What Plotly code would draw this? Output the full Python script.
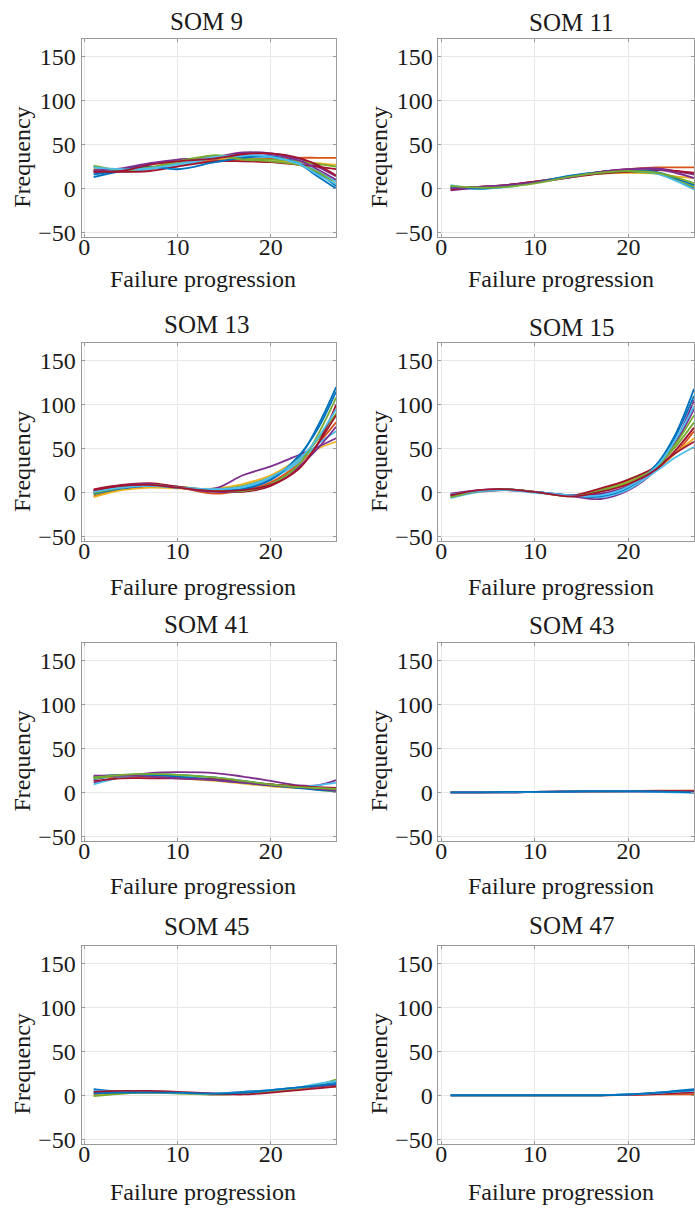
import plotly.graph_objects as go

# ---------------- data ----------------
X = [1, 4, 7, 10, 14, 17, 20, 23, 25, 27]

TITLES = ["SOM 9", "SOM 11", "SOM 13", "SOM 15", "SOM 41", "SOM 43", "SOM 45", "SOM 47"]
X_TICKS = [0, 10, 20]
Y_TICKS = [-50, 0, 50, 100, 150]
X_LABEL = "Failure progression"
Y_LABEL = "Frequency"

SOM9 = [
    [13, 20, 24, 27, 33, 37, 37, 30, 18, 3],
    [20, 21, 24, 28, 32, 33, 34, 35, 35, 35],
    [22, 20, 22, 27, 34, 32, 31, 30, 29, 27],
    [18, 22, 28, 32, 36, 41, 40, 34, 25, 14],
    [24, 20, 24, 29, 38, 34, 33, 31, 28, 25],
    [25, 19, 22, 26, 35, 37, 36, 29, 20, 8],
    [20, 19, 20, 25, 31, 31, 30, 27, 25, 22],
    [16, 21, 25, 22, 30, 35, 36, 28, 14, 0],
    [21, 23, 29, 33, 35, 40, 39, 32, 22, 10],
    [26, 21, 24, 31, 37, 33, 31, 27, 19, 5],
    [24, 22, 23, 28, 36, 38, 36, 28, 16, 5],
    [19, 20, 27, 31, 34, 39, 40, 35, 27, 15],
]
SOM11 = [
    [3, 0, 2, 7, 14, 18, 20, 18, 10, 0],
    [0, 2, 4, 8, 14, 19, 22, 24, 24, 24],
    [1, 1, 3, 7, 13, 17, 18, 17, 14, 12],
    [-2, 1, 4, 8, 14, 19, 22, 23, 20, 16],
    [2, 1, 3, 7, 14, 17, 19, 17, 10, 2],
    [4, 0, 2, 7, 15, 18, 20, 17, 9, -1],
    [-1, 2, 4, 8, 13, 17, 19, 21, 20, 18],
    [2, 0, 3, 7, 15, 19, 21, 19, 12, 4],
    [0, 2, 4, 7, 13, 19, 22, 22, 18, 12],
    [3, 1, 2, 6, 14, 18, 20, 18, 13, 6],
]
SOM13 = [
    [0, 6, 8, 6, 3, 5, 15, 40, 75, 120],
    [-4, 4, 7, 6, -1, 3, 12, 33, 55, 80],
    [-5, 3, 6, 5, 5, 10, 20, 38, 50, 58],
    [3, 8, 10, 7, 5, 20, 30, 43, 52, 62],
    [-2, 5, 9, 7, 4, 8, 18, 37, 60, 90],
    [1, 7, 9, 6, 4, 6, 16, 35, 55, 70],
    [4, 9, 11, 7, 2, 1, 8, 28, 55, 100],
    [-1, 5, 8, 6, 3, 4, 15, 42, 72, 115],
    [2, 8, 10, 6, 1, 2, 10, 30, 50, 75],
    [0, 6, 9, 6, 3, 2, 10, 32, 65, 108],
    [1, 6, 8, 6, 4, 7, 18, 38, 62, 95],
    [3, 8, 9, 6, 2, 3, 9, 27, 55, 88],
]
SOM15 = [
    [-5, 2, 4, 1, -3, -2, 6, 32, 66, 118],
    [-2, 1, 3, 1, -4, 2, 10, 27, 45, 70],
    [-3, 2, 4, 1, -3, 4, 13, 28, 45, 62],
    [-1, 3, 4, 1, -4, -7, 3, 27, 58, 105],
    [-4, 2, 4, 1, -3, 3, 15, 30, 52, 80],
    [-6, 1, 3, 0, -3, -5, 4, 25, 40, 52],
    [-2, 2, 4, 1, -3, 5, 15, 30, 45, 58],
    [-4, 2, 4, 1, -3, -4, 6, 32, 64, 110],
    [-3, 2, 3, 1, -3, -1, 8, 28, 56, 95],
    [-5, 2, 4, 1, -4, 2, 12, 29, 55, 88],
    [-2, 2, 3, 1, -3, -3, 7, 30, 60, 98],
    [-3, 3, 4, 1, -4, 1, 10, 27, 48, 74],
]
SOM41 = [
    [15, 19, 20, 20, 17, 13, 9, 6, 4, 2],
    [18, 17, 17, 17, 14, 11, 8, 6, 5, 4],
    [17, 18, 17, 16, 13, 10, 7, 5, 4, 3],
    [11, 18, 22, 23, 22, 18, 13, 8, 8, 14],
    [16, 19, 19, 18, 15, 12, 9, 6, 3, 1],
    [9, 17, 20, 20, 16, 12, 8, 6, 8, 11],
    [13, 16, 16, 16, 15, 12, 9, 7, 6, 5],
    [18, 20, 20, 18, 14, 11, 8, 5, 3, 2],
    [19, 19, 18, 16, 14, 11, 8, 6, 4, 2],
    [17, 20, 21, 20, 17, 13, 9, 6, 5, 4],
]
SOM43 = [
    [0, 0, 0, 0.5, 1, 1, 1, 1, 0.5, 0],
    [0, 0, 0.5, 0.5, 1, 1.5, 1.5, 2, 2, 2],
    [0, 0, 0, 0.5, 1, 1, 1, 1, 1, 0.5],
    [0, 0, 0, 0.5, 1, 1, 1.5, 1.5, 1.5, 1.5],
    [0, 0, 0, 0.5, 1, 1, 1, 0.5, 0, -0.5],
    [0, 0, 0.5, 0.5, 1, 1.5, 1.5, 1, 0.5, 0],
]
SOM45 = [
    [7, 4, 4, 3, 2, 4, 6, 9, 12, 15],
    [1, 3, 4, 3, 1, 2, 4, 7, 9, 12],
    [0, 2, 3, 3, 1, 2, 4, 7, 9, 10],
    [3, 4, 4, 3, 1, 2, 5, 8, 10, 12],
    [-1, 2, 3, 2, 1, 2, 5, 8, 12, 18],
    [5, 4, 4, 3, 2, 3, 6, 9, 13, 16],
    [4, 5, 5, 4, 2, 1, 3, 6, 8, 10],
    [2, 3, 3, 3, 2, 3, 6, 9, 11, 13],
]
SOM47 = [
    [0, 0, 0, 0, 0, 0, 0.5, 1, 1, 1],
    [0, 0, 0, 0, 0, 0, 0.5, 1.5, 2.5, 3],
    [0, 0, 0, 0, 0, 0, 1, 2.5, 4, 5],
    [0, 0, 0, 0, 0, 0, 1, 3, 5, 7],
    [0, 0, 0, 0, 0, 0, 1, 3, 4.5, 6],
]
PANELS = [SOM9, SOM11, SOM13, SOM15, SOM41, SOM43, SOM45, SOM47]
PANEL_COLORS = [
    ["#0072BD", "#D95319", "#EDB120", "#7E2F8E", "#77AC30", "#4DBEEE", "#A2142F",
     "#0072BD", "#7E2F8E", "#77AC30", "#4DBEEE", "#A2142F"],
] * 5 + [
    ["#A2142F", "#D95319", "#7E2F8E", "#A2142F", "#4DBEEE", "#0072BD"],
    ["#0072BD", "#D95319", "#EDB120", "#7E2F8E", "#77AC30", "#4DBEEE", "#A2142F", "#0072BD"],
    ["#D95319", "#A2142F", "#4DBEEE", "#0072BD", "#0072BD"],
]

# ---------------- layout geometry (pixels) ----------------
W, H = 695, 1217
COL_X = [(79, 335), (438, 695)]
ROW_Y = [(39.2, 238.8), (345.7, 545.3), (647.5, 847.1), (952.7, 1152.3)]
TITLE_Y = [[22, 23], [327, 330], [629, 630], [933, 932]]
TITLE_X = [205, 572]
XLAB_Y = [[281, 281], [591, 591], [893, 893], [1201, 1201]]
XLAB_X = [201, 561]
YLAB_X = [19, 378]
YLAB_DY = 19
XTICK_LIFT = 7
X_RANGE = [-0.3, 27]
Y_RANGE = [-55, 170]

FONT = "Liberation Serif, Times New Roman, serif"
TXT = "#1a1a1a"

fig = go.Figure()
annotations = []
layout_axes = {}
for i, (data, title) in enumerate(zip(PANELS, TITLES)):
    r, c = divmod(i, 2)
    n = i + 1
    xa = "x" if n == 1 else f"x{n}"
    ya = "y" if n == 1 else f"y{n}"
    cols = PANEL_COLORS[i]
    for k, ys in enumerate(data):
        fig.add_trace(go.Scatter(
            x=X, y=ys, mode="lines", xaxis=xa, yaxis=ya,
            line=dict(color=cols[k % len(cols)], width=1.8, shape="spline", smoothing=1.0),
            showlegend=False, hoverinfo="skip"))
    x0, x1 = COL_X[c]
    y0, y1 = ROW_Y[r]
    xdom = [x0 / W, min(x1 / W, 1.0)]
    frame = dict(showline=True, mirror="ticks", linecolor="#9a9a9a", linewidth=1,
                 showgrid=True, gridcolor="#e8e8e8", gridwidth=1, zeroline=False,
                 ticks="inside", ticklen=3, tickcolor="#9a9a9a",
                 tickfont=dict(family=FONT, size=24, color=TXT))
    layout_axes["xaxis" if n == 1 else f"xaxis{n}"] = dict(
        domain=xdom, anchor=ya, range=X_RANGE, tickvals=X_TICKS,
        showticklabels=False, **frame)
    layout_axes["yaxis" if n == 1 else f"yaxis{n}"] = dict(
        domain=[1 - y1 / H, 1 - y0 / H], anchor=xa, range=Y_RANGE,
        tickvals=Y_TICKS, **frame)
    # tick-label-only x axis, lifted slightly to sit tight under the frame
    m = 8 + n
    layout_axes[f"xaxis{m}"] = dict(
        domain=xdom, anchor="free", overlaying=xa,
        position=1 - (y1 - XTICK_LIFT) / H, range=X_RANGE, tickvals=X_TICKS,
        showline=False, showgrid=False, zeroline=False, ticks="",
        tickfont=dict(family=FONT, size=24, color=TXT))
    fig.add_trace(go.Scatter(x=[X[0]], y=[None], xaxis=f"x{m}", yaxis=ya,
                             mode="lines", showlegend=False, hoverinfo="skip"))
    annotations.append(dict(text=title, x=TITLE_X[c] / W, y=1 - TITLE_Y[r][c] / H,
                            xref="paper", yref="paper", xanchor="center", yanchor="middle",
                            showarrow=False, font=dict(family=FONT, size=25, color=TXT)))
    annotations.append(dict(text=X_LABEL, x=XLAB_X[c] / W, y=1 - XLAB_Y[r][c] / H,
                            xref="paper", yref="paper", xanchor="center", yanchor="middle",
                            showarrow=False, font=dict(family=FONT, size=24, color=TXT)))
    annotations.append(dict(text=Y_LABEL, x=YLAB_X[c] / W,
                            y=1 - ((y0 + y1) / 2 + YLAB_DY) / H,
                            xref="paper", yref="paper", xanchor="center", yanchor="middle",
                            textangle=-90, showarrow=False,
                            font=dict(family=FONT, size=24, color=TXT)))

fig.update_layout(width=W, height=H, margin=dict(l=0, r=0, t=0, b=0),
                  paper_bgcolor="white", plot_bgcolor="white",
                  annotations=annotations, showlegend=False, **layout_axes)

fig.write_html("out.html", config={"displayModeBar": False},
               post_script="document.body.style.margin='0';document.body.style.overflow='hidden';")
